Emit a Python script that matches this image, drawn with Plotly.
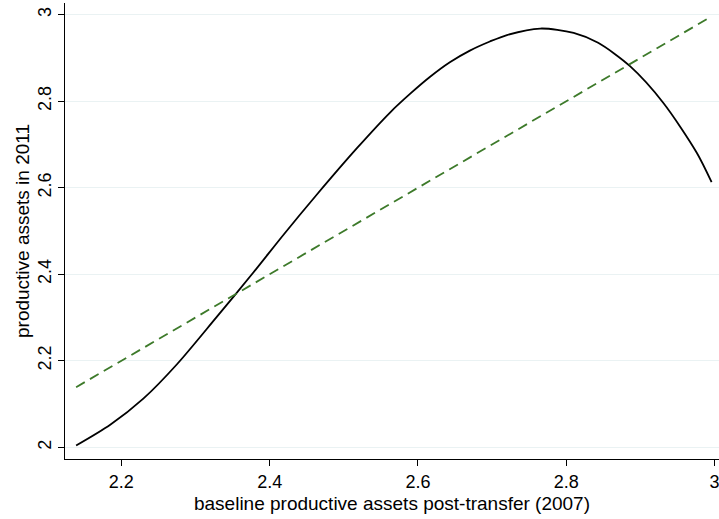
import plotly.graph_objects as go

# fitted curve
fit_x = [2.139, 2.185, 2.230, 2.275, 2.327, 2.378, 2.419, 2.464, 2.518, 2.563,
         2.590, 2.616, 2.643, 2.670, 2.697, 2.720, 2.765, 2.810, 2.843, 2.886,
         2.931, 2.976, 2.996]
fit_y = [2.004, 2.052, 2.113, 2.192, 2.298, 2.404, 2.492, 2.585, 2.692, 2.775,
         2.818, 2.856, 2.890, 2.917, 2.938, 2.953, 2.968, 2.958, 2.935, 2.881,
         2.796, 2.681, 2.613]

# 45 degree reference line
ref_x = [2.139, 2.996]
ref_y = [2.139, 2.996]

x_ticks = [2.2, 2.4, 2.6, 2.8, 3]
y_ticks = [2, 2.2, 2.4, 2.6, 2.8, 3]

fig = go.Figure()
fig.add_trace(go.Scatter(x=fit_x, y=fit_y, mode="lines",
                         line=dict(color="black", width=1.8, shape="spline", smoothing=0.8),
                         showlegend=False))
fig.add_trace(go.Scatter(x=ref_x, y=ref_y, mode="lines",
                         line=dict(color="#3d7a2a", width=1.8, dash="10px,6px"),
                         showlegend=False))

fig.update_layout(
    width=719, height=519,
    margin=dict(l=65, r=0, t=3, b=60),
    paper_bgcolor="white", plot_bgcolor="white",
    font=dict(family="Liberation Sans, Arial, sans-serif", size=16, color="black"),
    xaxis=dict(range=[2.124, 3.006], tickvals=x_ticks,
               ticktext=["2.2", "2.4", "2.6", "2.8", "3"],
               tickfont=dict(size=18), ticklabeloverflow="allow",
               showgrid=False, zeroline=False,
               showline=True, linecolor="black", linewidth=1.2,
               ticks="outside", ticklen=6, tickcolor="black",
               title=dict(text="baseline productive assets post-transfer (2007)",
                          standoff=5)),
    yaxis=dict(range=[1.973, 3.027], tickvals=y_ticks,
               ticktext=["2", "2.2", "2.4", "2.6", "2.8", "3"],
               tickangle=-90, tickfont=dict(size=18),
               showgrid=True, gridcolor="#eaf2f3", gridwidth=1.2,
               zeroline=False,
               showline=True, linecolor="black", linewidth=1.2,
               ticks="outside", ticklen=6, tickcolor="black",
               title=dict(text="productive assets in 2011", standoff=0)),
)

# drop the page's default body margin so the figure sits at the corner
fig.write_html("out.html", config={"displayModeBar": False},
               post_script="document.body.style.margin='0';")
